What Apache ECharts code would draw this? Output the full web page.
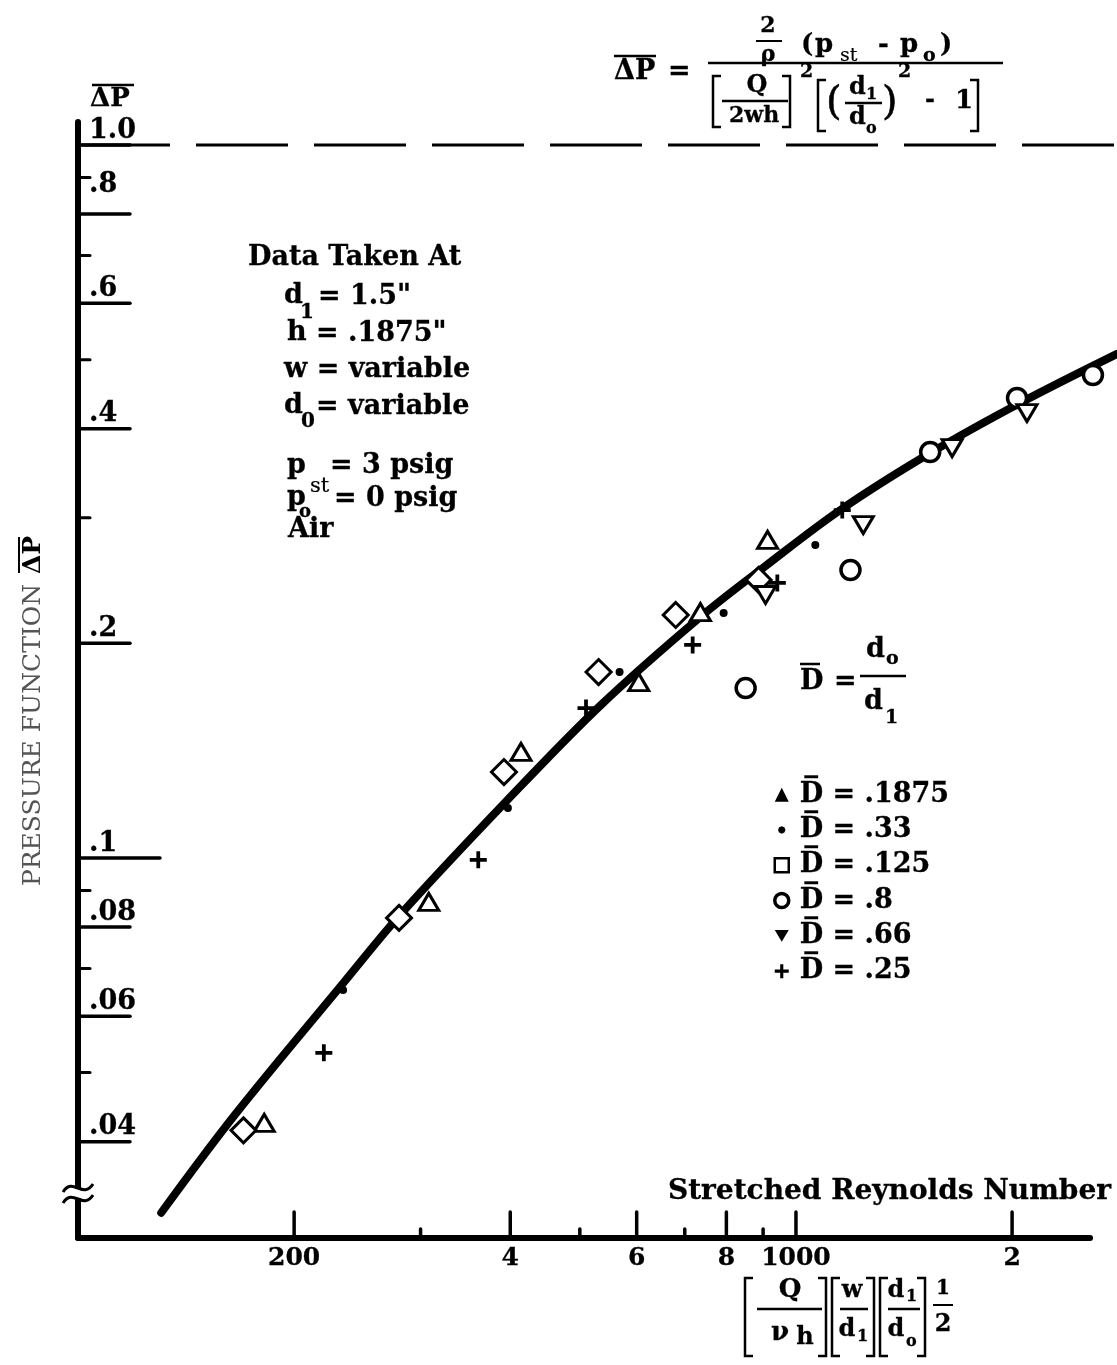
<!DOCTYPE html>
<html>
<head>
<meta charset="utf-8">
<script src="https://cdn.jsdelivr.net/npm/echarts@6/dist/echarts.min.js"></script>
<style>
  html, body { margin: 0; padding: 0; background: #fff; }
  #chart { width: 1117px; height: 1365px; }
</style>
</head>
<body>
<div id="chart"></div>
<script>
// Pressure function ΔP against stretched Reynolds number, log-log scales.

// Axis ranges (data units); the drawn horizontal axis stops at xAxisEnd
const xRange = [100, 2800];
const yRange = [0.02931, 1.0771];
const xAxisEnd = 2568;

// Series (D̄ = d0 / d1)
const seriesNames = ['D\u0305 = .1875', 'D\u0305 = .33', 'D\u0305 = .125', 'D\u0305 = .8', 'D\u0305 = .66', 'D\u0305 = .25'];
const tri1875 = [[181.7, 0.0425], [308, 0.0868], [414, 0.1409], [604, 0.1765], [736, 0.2213], [913, 0.2793]];
const dot33   = [[234, 0.0653], [397, 0.1175], [568, 0.1823], [793, 0.2206], [1064, 0.2748]];
const sq125   = [[170, 0.0415], [280, 0.0824], [392, 0.132], [531, 0.1823], [680, 0.2192], [887, 0.2455]];
const circ8   = [[851, 0.1731], [1191, 0.2535], [1538, 0.371], [2032, 0.4418], [2592, 0.4758]];
const inv66   = [[907, 0.2338], [1241, 0.2931], [1650, 0.3758], [2098, 0.4208]];
const plus25  = [[220, 0.0533], [361, 0.0994], [510, 0.1623], [718, 0.199], [942, 0.2431], [1160, 0.3076]];

// Faired curve through the data
const fitCurveX = [130.6, 165, 234.8, 280, 394, 535, 736, 907, 1153, 1538, 2052, 2800];
const fitCurveY = [0.0318, 0.0435, 0.067, 0.0829, 0.1198, 0.1639, 0.2178, 0.2568, 0.3077, 0.3698, 0.4347, 0.5093];

// Reference level ΔP = 1
const refLevel = 1.0;

// Tick marks and labels
const yMajorTicks  = [1.0, 0.8, 0.6, 0.4, 0.2, 0.1, 0.08, 0.06, 0.04];
const yMajorLabels = ['1.0', '.8', '.6', '.4', '.2', '.1', '.08', '.06', '.04'];
const yMinorTicks  = [0.9, 0.7, 0.5, 0.3, 0.09, 0.07, 0.05];
const xMajorTicks  = [200, 400, 600, 800, 1000, 2000];
const xMajorLabels = ['200', '4', '6', '8', '1000', '2'];
const xMinorTicks  = [300, 500, 700, 900];

// ---------------------------------------------------------------------------
const SERIF = '"DejaVu Serif", "Liberation Serif", serif';
const font = (size, weight) => `${weight || 'bold'} ${size}px ${SERIF}`;
const INK = '#000';

const PLUS_PATH = 'path://M7,0H11V18H7Z M0,7H18V11H0Z';
const DOT_ICON = 'path://M0,0M9,9M4.5,2.1L6.2,2.8L6.9,4.5L6.2,6.2L4.5,6.9L2.8,6.2L2.1,4.5L2.8,2.8Z';
const INV_TRI_ICON = 'path://M0,0L20,0L10,17Z';

function T(text, x, y, size, opt) {
  opt = opt || {};
  return {
    type: 'text', x: x, y: y, z: 60, silent: true,
    style: {
      text: text, font: font(size, opt.weight), fill: opt.fill || INK,
      stroke: opt.noStroke ? null : INK, lineWidth: opt.lw != null ? opt.lw : 0.3,
      align: opt.align || 'left', verticalAlign: opt.va || 'middle'
    }
  };
}
function L(x1, x2, y, w) {
  return { type: 'line', z: 60, silent: true, shape: { x1: x1, y1: y, x2: x2, y2: y },
           style: { stroke: INK, lineWidth: w || 2.5 } };
}
function bracket(x, y1, y2, dir) {
  const s = 8 * dir;
  return { type: 'polyline', z: 60, silent: true,
           shape: { points: [[x + s, y1], [x, y1], [x, y2], [x + s, y2]] },
           style: { stroke: INK, lineWidth: 2.5, fill: null } };
}

const graphics = [
  // axis name at top of the vertical axis
  T('ΔP', 90, 99, 26), L(92, 134, 85),

  // vertical axis title
  {
    type: 'group', x: 33, y: 735, rotation: Math.PI / 2, z: 60, silent: true,
    children: [
      { type: 'text', x: 0, y: 0, style: { text: 'PRESSURE FUNCTION', font: font(25, 'normal'),
        fill: '#555', align: 'center', verticalAlign: 'middle' } },
      { type: 'text', x: 180, y: 0, style: { text: 'ΔP', font: font(25), fill: INK,
        align: 'center', verticalAlign: 'middle' } },
      { type: 'line', shape: { x1: 162, y1: -14, x2: 198, y2: -14 }, style: { stroke: INK, lineWidth: 2 } }
    ]
  },

  // defining equation for ΔP
  T('ΔP', 614, 72, 27), L(614, 656, 56), T('=', 668, 72, 27),
  L(708, 1003, 63, 2.5),
  T('2', 768, 26, 22, { align: 'center' }), L(756, 782, 41, 2), T('ρ', 768, 55, 22, { align: 'center' }),
  T('(', 801, 45, 26), T('p', 815, 45, 26), T('st', 840, 56, 19, { weight: 'normal', lw: 0.2 }),
  T('-', 878, 45, 26), T('p', 900, 45, 26), T('o', 923, 56, 19), T(')', 940, 45, 26),
  bracket(713, 76, 127, 1), T('Q', 757, 86, 24, { align: 'center' }), L(722, 788, 101),
  T('2wh', 754, 116, 22, { align: 'center' }), bracket(790, 76, 127, -1), T('2', 800, 72, 19),
  bracket(818, 80, 131, 1), T('(', 826, 104, 40, { weight: 'normal', lw: 0.6 }),
  T('d', 849, 88, 24), T('1', 866, 95, 16), L(845, 882, 103),
  T('d', 849, 118, 24), T('o', 866, 129, 16),
  T(')', 882, 104, 40, { weight: 'normal', lw: 0.6 }), T('2', 898, 72, 19),
  T('-', 925, 101, 24), T('1', 955, 101, 26), bracket(978, 80, 131, -1),

  // test conditions
  T('Data Taken At', 248, 258, 27),
  T('d', 284, 296, 27), T('1', 300, 313, 20), T('= 1.5"', 318, 297, 27),
  T('h', 287, 333, 27), T('= .1875"', 316, 334, 27),
  T('w = variable', 284, 370, 27),
  T('d', 284, 406, 27), T('0', 301, 422, 20), T('= variable', 316, 407, 27),
  T('p', 287, 466, 27), T('= 3 psig', 330, 466, 27),
  T('st', 310, 487, 21, { weight: 'normal', lw: 0.2 }),
  T('p', 287, 498, 27), T('= 0 psig', 334, 499, 27),
  T('o', 299, 512, 18), T('Air', 288, 530, 27),

  // definition of D̄
  T('D', 800, 682, 27), L(800, 820, 664), T('=', 834, 682, 27),
  T('d', 866, 650, 27), T('o', 886, 659, 19), L(860, 906, 676),
  T('d', 864, 702, 27), T('1', 885, 718, 19),

  // horizontal axis title and its definition
  T('Stretched Reynolds Number', 1111, 1192, 28, { align: 'right' }),
  bracket(745, 1278, 1356, 1), T('Q', 790, 1290, 26, { align: 'center' }), L(757, 822, 1309),
  T('ν', 780, 1333, 26, { align: 'center' }), T('h', 805, 1338, 24, { align: 'center' }),
  bracket(826, 1278, 1356, -1),
  bracket(832, 1278, 1356, 1), T('w', 852, 1291, 24, { align: 'center' }), L(840, 868, 1309),
  T('d', 847, 1330, 24, { align: 'center' }), T('1', 857, 1337, 16),
  bracket(874, 1278, 1356, -1),
  bracket(880, 1278, 1356, 1), T('d', 896, 1291, 24, { align: 'center' }), T('1', 906, 1297, 16),
  L(888, 920, 1309), T('d', 896, 1330, 24, { align: 'center' }), T('o', 906, 1342, 16),
  bracket(925, 1278, 1356, -1),
  T('1', 943, 1289, 20, { align: 'center' }), L(933, 953, 1305, 2), T('2', 943, 1325, 24, { align: 'center' }),

  // break in the vertical axis
  { type: 'rect', z: 80, silent: true, shape: { x: 70, y: 1189, width: 18, height: 9 }, style: { fill: '#fff' } },
  { type: 'bezierCurve', z: 81, silent: true,
    shape: { x1: 63, y1: 1192, cpx1: 73, cpy1: 1176, cpx2: 83, cpy2: 1200, x2: 93, y2: 1184 },
    style: { stroke: INK, lineWidth: 3, fill: null } },
  { type: 'bezierCurve', z: 81, silent: true,
    shape: { x1: 63, y1: 1203, cpx1: 73, cpy1: 1187, cpx2: 83, cpy2: 1211, x2: 93, y2: 1195 },
    style: { stroke: INK, lineWidth: 3, fill: null } }
];

// tick marks + labels drawn through the axis scales
function yTickSeries(values, labels, longLen, shortLen) {
  return {
    type: 'custom', coordinateSystem: 'cartesian2d', clip: false, silent: true, z: 10,
    data: values.map(v => [xRange[0], v]),
    renderItem: function (params, api) {
      const p = api.coord([api.value(0), api.value(1)]);
      const v = values[params.dataIndex];
      const len = labels ? (v === 0.1 ? longLen : shortLen) : shortLen;
      const children = [{
        type: 'line', shape: { x1: p[0], y1: p[1], x2: p[0] + len, y2: p[1] },
        style: { stroke: INK, lineWidth: labels ? 3.5 : 3, lineCap: 'round' }
      }];
      if (labels) {
        const lift = v === 0.8 ? 15 : 0;
        children.push({
          type: 'text', x: p[0] + 11, y: p[1] - 1 - lift,
          style: { text: labels[params.dataIndex], font: font(27), fill: INK, stroke: INK, lineWidth: 0.3,
                   align: 'left', verticalAlign: 'bottom' }
        });
      }
      return { type: 'group', children: children };
    }
  };
}
function xTickSeries(values, labels, len) {
  return {
    type: 'custom', coordinateSystem: 'cartesian2d', clip: false, silent: true, z: 10,
    data: values.map(v => [v, yRange[0]]),
    renderItem: function (params, api) {
      const p = api.coord([api.value(0), api.value(1)]);
      const children = [{
        type: 'line', shape: { x1: p[0], y1: p[1], x2: p[0], y2: p[1] - len },
        style: { stroke: INK, lineWidth: 3.5, lineCap: 'round' }
      }];
      if (labels) {
        children.push({
          type: 'text', x: p[0], y: p[1] + 8,
          style: { text: labels[params.dataIndex], font: font(25), fill: INK, stroke: INK, lineWidth: 0.3,
                   align: 'center', verticalAlign: 'top' }
        });
      }
      return { type: 'group', children: children };
    }
  };
}

const openMarker = { color: '#fff', borderColor: INK, borderWidth: 3, opacity: 1 };

const chart = echarts.init(document.getElementById('chart'), null, { renderer: 'canvas' });
chart.setOption({
  animation: false,
  backgroundColor: '#fff',
  grid: { left: 78, top: 122, width: 1039, height: 1116, containLabel: false, outerBoundsMode: 'none' },
  xAxis: {
    type: 'log', logBase: 10, min: xRange[0], max: xRange[1],
    axisLine: { show: false },
    axisTick: { show: false }, axisLabel: { show: false }, splitLine: { show: false }, minorTick: { show: false }
  },
  yAxis: {
    type: 'log', logBase: 10, min: yRange[0], max: yRange[1],
    axisLine: { show: true, onZero: false, lineStyle: { color: INK, width: 6, cap: 'round' } },
    axisTick: { show: false }, axisLabel: { show: false }, splitLine: { show: false }, minorTick: { show: false }
  },
  legend: {
    orient: 'vertical', left: 768, top: 776, itemWidth: 14, itemHeight: 14, itemGap: 8,
    selectedMode: false,
    textStyle: { fontFamily: SERIF, fontWeight: 'bold', fontSize: 27, color: INK,
                 textBorderColor: INK, textBorderWidth: 0.3, padding: [0, 0, 0, 6] },
    data: [
      { name: seriesNames[0], icon: 'triangle', itemStyle: { color: INK, borderWidth: 0 } },
      { name: seriesNames[1], icon: DOT_ICON, itemStyle: { color: INK, borderWidth: 0 } },
      { name: seriesNames[2], icon: 'rect', itemStyle: { color: '#fff', borderColor: INK, borderWidth: 2.5 } },
      { name: seriesNames[3], icon: 'circle', itemStyle: { color: '#fff', borderColor: INK, borderWidth: 3.5 } },
      { name: seriesNames[4], icon: INV_TRI_ICON, itemStyle: { color: INK, borderWidth: 0 } },
      { name: seriesNames[5], icon: PLUS_PATH, itemStyle: { color: INK, borderWidth: 0 } }
    ]
  },
  graphic: graphics,
  series: [
    // horizontal axis line, ending short of the plot edge
    { name: 'x-axis', type: 'line', z: 4, showSymbol: false, silent: true,
      data: [[xRange[0], yRange[0]], [xAxisEnd, yRange[0]]],
      lineStyle: { color: INK, width: 6, cap: 'round' } },
    { name: seriesNames[0], type: 'scatter', data: tri1875, clip: false, z: 5,
      symbol: 'triangle', symbolSize: [20, 17], itemStyle: openMarker },
    { name: seriesNames[1], type: 'scatter', data: dot33, clip: false, z: 5,
      symbol: 'circle', symbolSize: 8, itemStyle: { color: INK, opacity: 1 } },
    { name: seriesNames[2], type: 'scatter', data: sq125, clip: false, z: 5,
      symbol: 'diamond', symbolSize: [25, 25], itemStyle: openMarker },
    { name: seriesNames[3], type: 'scatter', data: circ8, clip: false, z: 5,
      symbol: 'circle', symbolSize: 19, itemStyle: { color: '#fff', borderColor: INK, borderWidth: 3.5, opacity: 1 } },
    { name: seriesNames[4], type: 'scatter', data: inv66, clip: false, z: 5,
      symbol: 'triangle', symbolRotate: 180, symbolSize: [20, 17], itemStyle: openMarker },
    { name: seriesNames[5], type: 'scatter', data: plus25, clip: false, z: 5,
      symbol: PLUS_PATH, symbolSize: 17, itemStyle: { color: INK, opacity: 1 } },
    { name: 'curve', type: 'line', clip: false, z: 3, smooth: 0.35, showSymbol: false, silent: true,
      data: fitCurveX.map((x, i) => [x, fitCurveY[i]]),
      lineStyle: { color: INK, width: 8, cap: 'round' } },
    { name: 'ref', type: 'line', clip: false, z: 2, showSymbol: false, silent: true,
      data: [[xRange[0], refLevel], [xRange[1], refLevel]],
      lineStyle: { color: INK, width: 3, type: [92, 26] } },
    yTickSeries(yMajorTicks, yMajorLabels, 82, 52),
    yTickSeries(yMinorTicks, null, 12, 12),
    xTickSeries(xMajorTicks, xMajorLabels, 26),
    xTickSeries(xMinorTicks, null, 9)
  ]
});
</script>
</body>
</html>
